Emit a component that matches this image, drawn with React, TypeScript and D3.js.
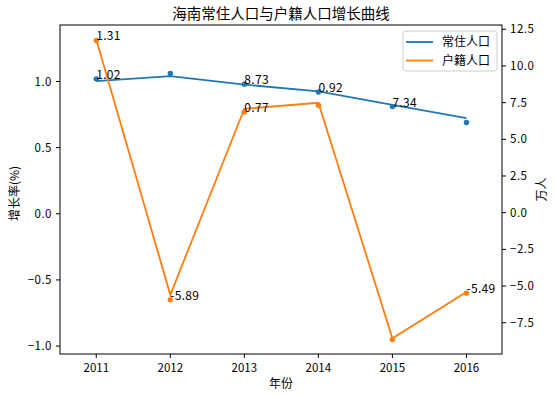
import * as d3 from 'd3';

const years = [2011, 2012, 2013, 2014, 2015, 2016];
// net increase (万人), drawn on the right axis
const residentNet = [8.96, 9.3, 8.73, 8.26, 7.34, 6.44];
const householdNet = [11.8, -5.6, 7.08, 7.49, -8.56, -5.4];
// growth rate (%), drawn as dots on the left axis
const residentRate = [1.02, 1.06, 0.98, 0.92, 0.81, 0.69];
const householdRate = [1.31, -0.65, 0.77, 0.82, -0.95, -0.6];
// annotation text at the dots
const residentLabels = ['1.02', '', '8.73', '0.92', '7.34', ''];
const householdLabels = ['1.31', '-5.89', '0.77', '', '', '-5.49'];

const leftTicks = [-1.0, -0.5, 0.0, 0.5, 1.0];
const rightTicks = [-7.5, -5.0, -2.5, 0.0, 2.5, 5.0, 7.5, 10.0, 12.5];

const BLUE = '#1f77b4';
const ORANGE = '#ff7f0e';
const FONT = '"Noto Sans CJK SC", "DejaVu Sans", sans-serif';

export default function App() {
    const width = 557;
    const height = 397;
    const margin = { top: 25, right: 55, bottom: 43, left: 60 };
    const x0 = margin.left;
    const x1 = width - margin.right;
    const y0 = margin.top;
    const y1 = height - margin.bottom;

    const x = d3.scaleLinear().domain([2010.51, 2016.48]).range([x0, x1]);
    const yL = d3.scaleLinear().domain([-1.06, 1.427]).range([y1, y0]);
    const yR = d3.scaleLinear().domain([-9.63, 12.79]).range([y1, y0]);

    const lineR = d3.line<number>()
        .x((_, i) => x(years[i]))
        .y(d => yR(d));

    const series = [
        { net: residentNet, rate: residentRate, labels: residentLabels, color: BLUE },
        { net: householdNet, rate: householdRate, labels: householdLabels, color: ORANGE },
    ];

    const fmt1 = (v: number) => v.toFixed(1).replace('-', '\u2212');

    return (
        <svg width={width} height={height} style={{ position: 'absolute', left: 0, top: 0, background: '#fff' }}
            fontFamily={FONT}>
            {/* Title */}
            <text x={(x0 + x1) / 2} y={19} textAnchor="middle" fontSize={14.5} fill="#000">
                海南常住人口与户籍人口增长曲线
            </text>

            {/* Lines (right axis) */}
            {series.map((s, k) => (
                <path key={'l' + k} d={lineR(s.net) ?? ''} fill="none" stroke={s.color} strokeWidth={1.8} />
            ))}

            {/* Dots (left axis) */}
            {series.map((s, k) => (
                <g key={'d' + k}>
                    {s.rate.map((v, i) => (
                        <circle key={i} cx={x(years[i])} cy={yL(v)} r={2.7} fill={s.color} />
                    ))}
                </g>
            ))}

            {/* Annotations */}
            {series.map((s, k) => (
                <g key={'a' + k} fontSize={12} fill="#000">
                    {s.labels.map((t, i) => t ? (
                        <text key={i} x={x(years[i])} y={yL(s.rate[i])} letterSpacing={0.3}>{t}</text>
                    ) : null)}
                </g>
            ))}

            {/* Frame */}
            <rect x={x0} y={y0} width={x1 - x0} height={y1 - y0} fill="none" stroke="#000" strokeWidth={1} />

            {/* X axis */}
            {years.map(yr => (
                <g key={yr}>
                    <line x1={x(yr)} x2={x(yr)} y1={y1} y2={y1 + 4} stroke="#000" strokeWidth={1} />
                    <text x={x(yr)} y={y1 + 18} textAnchor="middle" fontSize={11.5}>{yr}</text>
                </g>
            ))}
            <text x={(x0 + x1) / 2} y={388} textAnchor="middle" fontSize={12}>年份</text>

            {/* Left axis */}
            {leftTicks.map(t => (
                <g key={t}>
                    <line x1={x0 - 4} x2={x0} y1={yL(t)} y2={yL(t)} stroke="#000" strokeWidth={1} />
                    <text x={x0 - 8} y={yL(t)} dy="0.35em" textAnchor="end" fontSize={11.5} letterSpacing={0.5}>{fmt1(t)}</text>
                </g>
            ))}
            <text transform={`translate(19,${(y0 + y1) / 2 + 4}) rotate(-90)`} textAnchor="middle" fontSize={12}>
                增长率(%)
            </text>

            {/* Right axis */}
            {rightTicks.map(t => (
                <g key={t}>
                    <line x1={x1} x2={x1 + 4} y1={yR(t)} y2={yR(t)} stroke="#000" strokeWidth={1} />
                    <text x={x1 + 8} y={yR(t)} dy="0.35em" textAnchor="start" fontSize={11.5} letterSpacing={0.5}>{fmt1(t)}</text>
                </g>
            ))}
            <text transform={`translate(546,${(y0 + y1) / 2}) rotate(-90)`} textAnchor="middle" fontSize={12}>
                万人
            </text>

            {/* Legend */}
            <g>
                <rect x={403} y={31} width={94} height={40} rx={3} fill="#fff" fillOpacity={0.8} stroke="#ccc" strokeWidth={1} />
                {[{ name: '常住人口', color: BLUE }, { name: '户籍人口', color: ORANGE }].map((d, i) => (
                    <g key={d.name} transform={`translate(0,${42 + i * 18.5})`}>
                        <line x1={406} x2={433} y1={0} y2={0} stroke={d.color} strokeWidth={1.8} />
                        <text x={442} y={0} dy="0.36em" fontSize={12}>{d.name}</text>
                    </g>
                ))}
            </g>
        </svg>
    );
}
